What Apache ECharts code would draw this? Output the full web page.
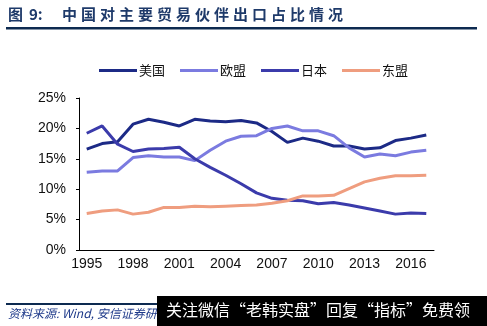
<!DOCTYPE html>
<html><head><meta charset="utf-8">
<script src="https://cdn.jsdelivr.net/npm/echarts@6/dist/echarts.min.js"></script>
<style>html,body{margin:0;padding:0;background:#fff}#c{width:487px;height:326px}</style>
</head><body><div id="c"></div>
<script>
var years = ['1995','1996','1997','1998','1999','2000','2001','2002','2003','2004','2005','2006','2007','2008','2009','2010','2011','2012','2013','2014','2015','2016','2017'];
var usData    = [16.6,17.5,17.8,20.7,21.5,21.0,20.4,21.5,21.2,21.1,21.3,20.9,19.5,17.7,18.4,17.9,17.1,17.1,16.6,16.8,18.0,18.4,18.9];
var euData    = [12.8,13.0,13.0,15.2,15.5,15.3,15.3,14.7,16.4,17.9,18.7,18.8,20.0,20.4,19.6,19.6,18.8,16.8,15.3,15.8,15.5,16.1,16.4];
var jpData    = [19.2,20.4,17.4,16.2,16.6,16.7,16.9,15.0,13.6,12.3,10.9,9.4,8.5,8.2,8.1,7.6,7.8,7.4,6.9,6.4,5.9,6.1,6.0];
var aseanData = [6.0,6.4,6.6,5.9,6.2,7.0,7.0,7.2,7.1,7.2,7.3,7.4,7.7,8.1,8.9,8.9,9.0,10.1,11.2,11.8,12.2,12.2,12.3];
var seriesNames = ['美国','欧盟','日本','东盟'];
var yTicks = [0,5,10,15,20,25];
var titleText = '中国对主要贸易伙伴出口占比情况';

var colors = ['#1c2a86','#7b7be0','#3b3bab','#ef9d7f'];
var chart = echarts.init(document.getElementById('c'));
var tFont = 'bold 15px "Noto Sans CJK SC"';
var titleEls = [
  {type:'text', left:8, top:7, style:{text:'图', font:tFont, fill:'#1e3a6a'}},
  {type:'text', left:29, top:7, style:{text:'9:', font:tFont, fill:'#1e3a6a'}}
];
for (var i = 0; i < titleText.length; i++) {
  titleEls.push({type:'text', left:62 + i*19, top:7, style:{text:titleText[i], font:tFont, fill:'#1e3a6a'}});
}
var graphics = titleEls.concat([
  {type:'rect', shape:{x:6,y:27,width:471,height:2.5}, style:{fill:'#0d2a50'}},
  {type:'rect', shape:{x:6,y:303,width:472,height:2}, style:{fill:'#0d2a50'}},
  {type:'text', left:8, top:307, style:{text:'资料来源: Wind, 安信证券研究中心', font:'italic 12px "Noto Sans CJK SC"', fill:'#1f3a8a'}},
  {type:'rect', shape:{x:157,y:296,width:330,height:30}, style:{fill:'#000'}},
  {type:'text', left:166, top:302, style:{text:'关注微信“老韩实盘”回复“指标”免费领', font:'16px "Noto Sans CJK SC"', fill:'#fff'}}
]);
var dataArr = [usData, euData, jpData, aseanData];
chart.setOption({
  animation:false,
  backgroundColor:'#fff',
  color: colors,
  graphic: graphics,
  legend:{
    left:94, top:59, icon:'rect', itemWidth:38, itemHeight:3, itemGap:15,
    textStyle:{fontSize:13, color:'#111', fontFamily:'"Noto Sans CJK SC"', padding:[0,0,0,-3]},
    data: seriesNames
  },
  grid:{left:79, right:53, top:98, bottom:76},
  xAxis:{
    type:'category', data: years, boundaryGap:true,
    axisLine:{lineStyle:{color:'#000', width:1}},
    axisTick:{inside:true, length:5, interval:2, lineStyle:{color:'#000'}},
    axisLabel:{interval:2, margin:7, fontSize:14, color:'#111', fontFamily:'Arial, "Liberation Sans"'}
  },
  yAxis:{
    type:'value', min:yTicks[0], max:yTicks[yTicks.length-1], interval:5,
    axisLine:{show:true, lineStyle:{color:'#000', width:1}},
    axisTick:{show:true, length:3, lineStyle:{color:'#000'}},
    splitLine:{show:false},
    axisLabel:{formatter:'{value}%', margin:13, fontSize:14, color:'#111', fontFamily:'Arial, "Liberation Sans"'}
  },
  series: seriesNames.map(function(n, k){
    return {name:n, type:'line', data:dataArr[k], showSymbol:false, symbol:'none',
      lineStyle:{width:3, color:colors[k]}, itemStyle:{color:colors[k]}};
  })
});
</script></body></html>
